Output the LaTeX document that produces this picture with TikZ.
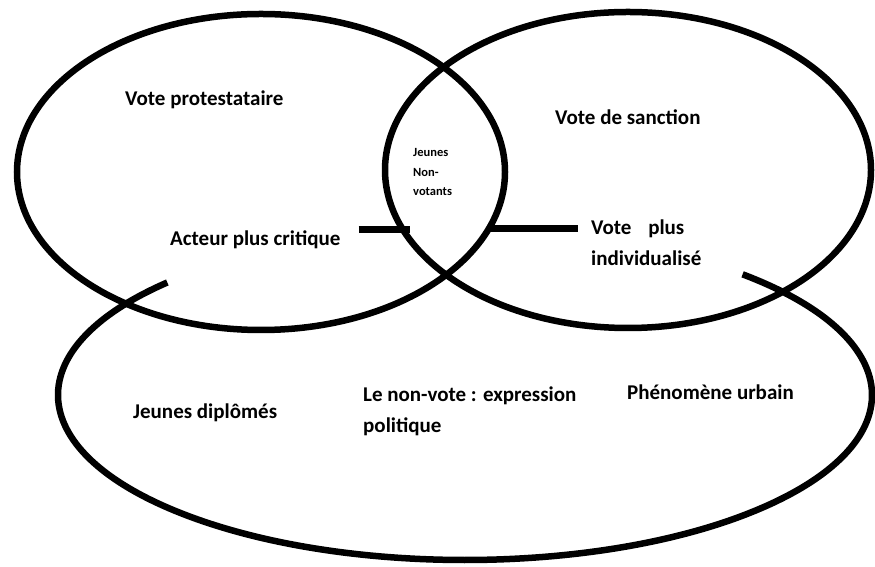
\documentclass[tikz,border=0pt]{standalone}
\usepackage{fontspec}
\setmainfont{Carlito}
\usetikzlibrary{positioning}

\begin{document}
\begin{tikzpicture}[
    x=1pt, y=1pt,
    ring/.style={line width=6.5pt, draw=black},
    link/.style={line width=7pt, draw=black},
    label/.style={anchor=west, inner sep=0pt, align=left,
        font=\fontsize{21}{31}\selectfont\bfseries},
    smalllabel/.style={anchor=west, inner sep=0pt, align=left,
        font=\fontsize{12.5}{19.5}\selectfont\bfseries}
]
\useasboundingbox (0,0) rectangle (875,567);

% Lower ellipse (open at the top)
\coordinate (lowc) at (465,172);
\draw[ring] (lowc) ++(137:407 and 165)
    arc[start angle=137, end angle=407, x radius=407, y radius=165];

% Upper ellipses
\draw[ring] (261,395) ellipse[x radius=244, y radius=158];
\draw[ring] (628,397) ellipse[x radius=243, y radius=158];

% Texts
\node[label] (protest) at (125,467) {Vote protestataire};
\node[label] (sanction) at (555,450) {Vote de sanction};
\node[smalllabel] (nonvotants) at (413,395) {Jeunes\\Non-\\votants};
\node[label] (acteur) at (170,327) {Acteur plus critique};
\node[label] (individu) at (591,324) {Vote\hspace{12pt} plus\\individualisé};
\node[label] (diplomes) at (133,154) {Jeunes diplômés};
\node[label] (nonvote) at (363,156) {Le non-vote : expression\\politique};
\node[label] (urbain) at (627,175) {Phénomène urbain};

% Links to the lens
\coordinate (lensW) at (410,337);
\coordinate (lensE) at (489,338);
\draw[link, shorten <=18pt] (acteur.east |- lensW) -- (lensW);
\draw[link, shorten >=13pt] (lensE) -- (individu.west |- lensE);

\end{tikzpicture}
\end{document}
